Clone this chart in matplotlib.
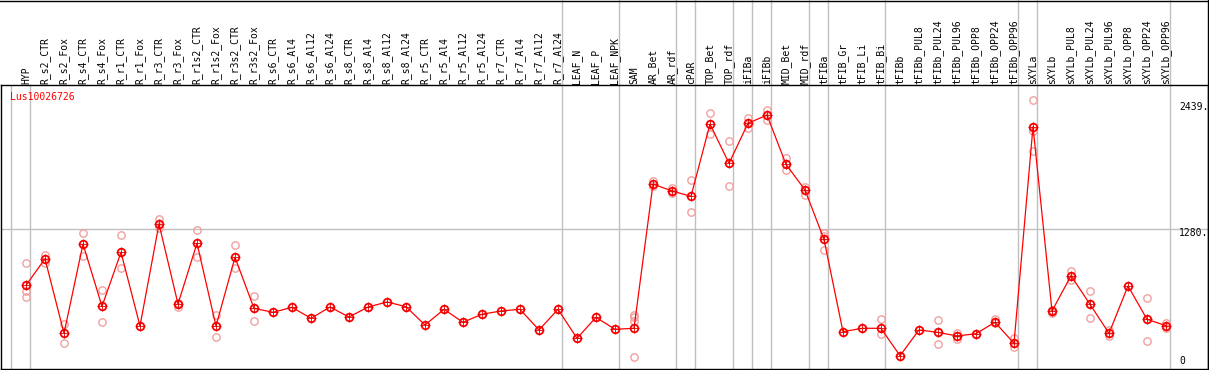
import matplotlib
matplotlib.use("Agg")
import matplotlib.pyplot as plt
import matplotlib.transforms as mtransforms
from matplotlib.lines import Line2D

samples = [
    "HYP", "R_s2_CTR", "R_s2_Fox", "R_s4_CTR", "R_s4_Fox", "R_r1_CTR", "R_r1_Fox",
    "R_r3_CTR", "R_r3_Fox", "R_r1s2_CTR", "R_r1s2_Fox", "R_r3s2_CTR", "R_r3s2_Fox",
    "R_s6_CTR", "R_s6_Al4", "R_s6_Al12", "R_s6_Al24", "R_s8_CTR", "R_s8_Al4",
    "R_s8_Al12", "R_s8_Al24", "R_r5_CTR", "R_r5_Al4", "R_r5_Al12", "R_r5_Al24",
    "R_r7_CTR", "R_r7_Al4", "R_r7_Al12", "R_r7_Al24", "LEAF_N", "LEAF_P", "LEAF_NPK",
    "SAM", "AR_Bet", "AR_rdf", "cPAR", "TOP_Bet", "TOP_rdf", "iFIBa", "iFIBb",
    "MID_Bet", "MID_rdf", "tFIBa", "tFIB_Gr", "tFIB_Li", "tFIB_Bi", "tFIBb",
    "tFIBb_PUL8", "tFIBb_PUL24", "tFIBb_PUL96", "tFIBb_OPP8", "tFIBb_OPP24",
    "tFIBb_OPP96", "sXYLa", "sXYLb", "sXYLb_PUL8", "sXYLb_PUL24", "sXYLb_PUL96",
    "sXYLb_OPP8", "sXYLb_OPP24", "sXYLb_OPP96",
]

means = [
    763, 1005, 325, 1139, 571, 1064, 392, 1322, 593, 1146, 392, 1018, 553,
    517, 562, 462, 565, 474, 565, 611, 568, 401, 544, 426, 499, 529, 544, 356, 544,
    280, 471, 362, 371, 1686, 1623, 1574, 2233, 1875, 2240, 2315, 1866, 1632,
    1182, 340, 371, 371, 121, 356, 334, 301, 322, 426, 234,
    2209, 529, 850, 590, 325, 757, 453, 395,
]

replicates = [
    [963, 714, 654], [1042, 963], [410, 234], [1237, 1033], [720, 428], [1221, 918], [],
    [1365, 1283], [604, 562], [1264, 1024], [492, 292], [1128, 918], [663, 435],
    [], [], [], [], [], [], [], [], [], [], [], [], [], [], [], [],
    [], [], [], [112, 495, 470, 440], [1710, 1670], [1650, 1600], [1723, 1428],
    [2334, 2142], [2078, 1665], [2285, 2194], [2361, 2270], [1921, 1814], [1662, 1586],
    [1243, 1210, 1085], [], [], [453, 319], [], [], [447, 225], [325, 270], [],
    [453, 417], [280, 203], [2450, 2172, 1987], [515, 540], [896, 811], [711, 462],
    [356, 301], [], [644, 255], [422, 371],
]

# group separators sit just right of these sample indices
separators = [0, 28, 31, 34, 35, 37, 38, 39, 41, 42, 45, 52, 53, 60]
gene = "Lus10026726"
y_max_label = 2439
y_mid_label = 1280

W, H = 1209, 370
PX_PER_UNIT = 0.1097
fig = plt.figure(figsize=(W / 100, H / 100), dpi=100)

top_px, bottom_px = 85, 369
ax = fig.add_axes([1 / W, (H - bottom_px) / H, 1207 / W, (bottom_px - top_px) / H])
ax.set_xlim((1 - 26) / 19, (1208 - 26) / 19)
ymax = (bottom_px - top_px) / PX_PER_UNIT
ax.set_ylim(0, ymax)
ax.set_xticks([])
ax.set_yticks([])
for s in ax.spines.values():
    s.set_linewidth(1.0)
    s.set_color("black")

grid = "#c0c0c0"
y_fig_top = bottom_px / PX_PER_UNIT  # data value reaching image top
ax.axhline(y_mid_label, color=grid, lw=1.0, zorder=1)
ax.plot([-1 + 4 / 19] * 2, [0, ymax], color=grid, lw=1.0, zorder=1)
for i in separators:
    x = i + 4 / 19
    top = ymax if i == 0 else y_fig_top
    ax.plot([x, x], [0, top], color=grid, lw=1.0, zorder=1, clip_on=False)

xs = list(range(len(samples)))
for i, reps in enumerate(replicates):
    if reps:
        ax.plot([i] * len(reps), reps, "o", ms=5.3, mfc="none", mec="#f0a0a0", mew=1.0, zorder=2)
ax.plot(xs, means, color="#ff0000", lw=0.9, zorder=3)
ax.plot(xs, means, "o", ms=5.5, mfc="none", mec="#ff0000", mew=1.3, zorder=4)
ax.plot(xs, means, "+", ms=7, mec="#e00000", mew=0.6, zorder=4)

mono = "DejaVu Sans Mono"
trans = mtransforms.blended_transform_factory(ax.transData, fig.transFigure)
for i, name in enumerate(samples):
    ax.text(i, (H - 84) / H, name, rotation=90, ha="center", va="bottom",
            fontsize=7, family=mono, transform=trans, clip_on=False)

fig.text(10 / W, (H - 92) / H, gene, color="#ff0000", fontsize=7, family=mono, va="top")
fig.text(1179 / W, (H - 102) / H, f"{y_max_label}.", fontsize=7, family=mono, va="top")
fig.text(1179 / W, (H - 228.5) / H, f"{y_mid_label}.", fontsize=7, family=mono, va="top")
fig.text(1179 / W, (H - 366) / H, "0", fontsize=7, family=mono, va="bottom")

fig.add_artist(Line2D([0, 1], [1 - 0.5 / H, 1 - 0.5 / H], color="black", lw=1.0))
fig.add_artist(Line2D([1 - 1.5 / W, 1 - 1.5 / W], [0, 1], color="black", lw=1.0))

assert len(samples) == len(means) == len(replicates)
fig.savefig("out.png", dpi=100)
